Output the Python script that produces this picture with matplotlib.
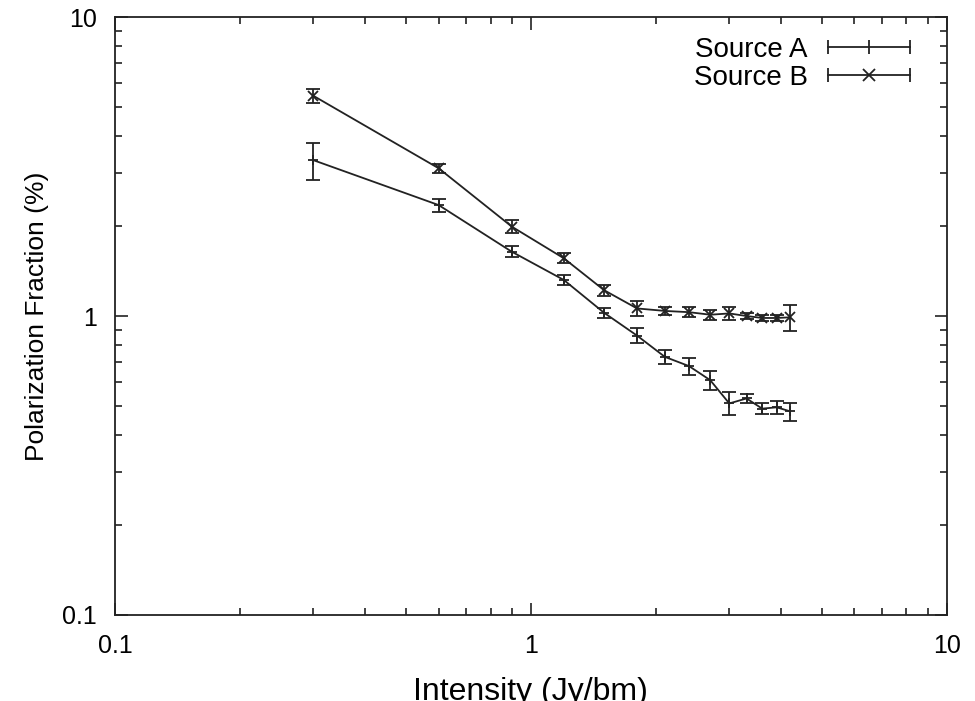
import matplotlib
matplotlib.use("Agg")
import matplotlib.pyplot as plt
from matplotlib.lines import Line2D
from matplotlib.legend_handler import HandlerLine2D
from matplotlib.ticker import FuncFormatter, LogLocator, NullFormatter

plt.rcParams['font.family'] = ['Liberation Sans', 'DejaVu Sans']

# intensity bins (Jy/bm)
intensity = [0.3, 0.6, 0.9, 1.2, 1.5, 1.8, 2.1, 2.4, 2.7, 3.0, 3.3, 3.6, 3.9, 4.2]

# source A polarization fraction (%) and errors
frac_a = [3.32, 2.35, 1.64, 1.32, 1.025, 0.86, 0.73, 0.68, 0.61, 0.51, 0.53, 0.49, 0.495, 0.48]
err_a = [0.47, 0.12, 0.07, 0.05, 0.04, 0.05, 0.04, 0.045, 0.045, 0.045, 0.02, 0.02, 0.025, 0.033]

# source B
frac_b = [5.45, 3.12, 1.99, 1.56, 1.22, 1.06, 1.04, 1.03, 1.01, 1.02, 1.0, 0.985, 0.985, 0.99]
err_b = [0.3, 0.1, 0.1, 0.06, 0.05, 0.06, 0.03, 0.04, 0.04, 0.05, 0.02, 0.02, 0.02, 0.1]

col = '#222222'

fig = plt.figure(figsize=(9.75, 7.01), dpi=100)
ax = fig.add_axes([0.118, 0.1227, 0.853, 0.853])

ax.errorbar(intensity, frac_a, yerr=err_a, color=col, lw=1.3, elinewidth=1.3,
            capsize=5, capthick=1.3, marker='+', ms=7, mew=1.3)
ax.errorbar(intensity, frac_b, yerr=err_b, color=col, lw=1.3, elinewidth=1.3,
            capsize=5, capthick=1.3, marker='x', ms=7, mew=1.3)

ax.set_xscale('log')
ax.set_yscale('log')
ax.set_xlim(0.1, 10)
ax.set_ylim(0.1, 10)

fmt = FuncFormatter(lambda v, p: '%g' % v)
ax.xaxis.set_major_formatter(fmt)
ax.yaxis.set_major_formatter(fmt)
ax.xaxis.set_minor_formatter(NullFormatter())
ax.yaxis.set_minor_formatter(NullFormatter())
ax.xaxis.set_minor_locator(LogLocator(base=10, subs=range(2, 10)))
ax.yaxis.set_minor_locator(LogLocator(base=10, subs=range(2, 10)))

ax.tick_params(which='both', direction='in', top=True, right=True, width=1.2, color=col)
ax.tick_params(which='major', length=9, labelsize=18)
ax.tick_params(which='minor', length=5)
ax.tick_params(axis='x', which='major', pad=14)
ax.tick_params(axis='y', which='major', pad=13)
for s in ax.spines.values():
    s.set_linewidth(1.3)
    s.set_color(col)

# the original figure has its x label clipped at the bottom edge
ax.set_xlabel('Intensity (Jy/bm)', fontsize=23)
ax.set_ylabel('Polarization Fraction (%)', fontsize=19)
ax.xaxis.set_label_coords(0.5, -0.104)
ax.yaxis.set_label_coords(-0.08, 0.5)

# gnuplot style legend samples: horizontal bar with end caps and centre point
caps_a = Line2D([], [], color=col, lw=1.3, marker='|', ms=10, mew=1.3)
mid_a = Line2D([], [], color=col, ls='none', marker='|', ms=10, mew=1.3)
caps_b = Line2D([], [], color=col, lw=1.3, marker='|', ms=10, mew=1.3)
mid_b = Line2D([], [], color=col, ls='none', marker='x', ms=9, mew=1.3)
hmap = {caps_a: HandlerLine2D(numpoints=2), caps_b: HandlerLine2D(numpoints=2),
        mid_a: HandlerLine2D(numpoints=1), mid_b: HandlerLine2D(numpoints=1)}
ax.legend([(caps_a, mid_a), (caps_b, mid_b)], ['Source A', 'Source B'],
          handler_map=hmap, loc='upper right', bbox_to_anchor=(0.979, 0.985),
          borderaxespad=0, frameon=False, markerfirst=False,
          fontsize=20, handlelength=3.55, labelspacing=0.05, handletextpad=0.42)

fig.savefig('out.png', dpi=100)
